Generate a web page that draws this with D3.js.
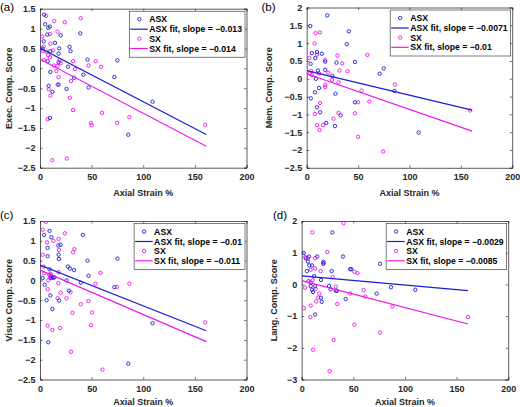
<!DOCTYPE html>
<html><head><meta charset="utf-8">
<script src="https://cdn.jsdelivr.net/npm/d3@7"></script>
<style>body{margin:0;background:#fff}svg{display:block}</style>
</head><body><svg id="chart" width="520" height="407"></svg>
<script>
// ---------- data ----------
const panelLetters = ["(a)", "(b)", "(c)", "(d)"];
const yLabels = ["Exec. Comp. Score", "Mem. Comp. Score", "Visuo Comp. Score", "Lang. Comp. Score"];
const xLabel = "Axial Strain %";
const xDomain = [0, 200];
const xTicks = [0, 50, 100, 150, 200];
const yDomains = [[-2.5, 1.5], [-2.5, 2], [-2.5, 1.5], [-3, 2]];
const yTickSets = [
  [-2.5, -2, -1.5, -1, -0.5, 0, 0.5, 1, 1.5],
  [-2.5, -2, -1.5, -1, -0.5, 0, 0.5, 1, 1.5, 2],
  [-2.5, -2, -1.5, -1, -0.5, 0, 0.5, 1, 1.5],
  [-3, -2, -1, 0, 1, 2]
];
const seriesNames = ["ASX", "SX"];
const asxSlopeLabels = ["−0.013", "−0.0071", "−0.01", "−0.0029"];
const sxSlopeLabels = ["−0.014", "−0.01", "−0.011", "−0.0085"];
// [intercept, slope] of the fitted lines
const asxFits = [[0.51, -0.0135], [0.23, -0.0069], [0.39, -0.0103], [0.27, -0.0029]];
const sxFits = [[0.23, -0.0136], [0.14, -0.0100], [0.26, -0.0112], [0.12, -0.0085]];
const fitXRange = [0, 161];

const execASX = [[4,1.35],[5,1.11],[8,1.02],[9.6,1.05],[7,0.85],[20,0.83],[39,0.88],[3.5,0.68],[2.5,0.5],[14.5,0.64],[10,0.43],[18.6,0.5],[18,0.37],[28.6,0.54],[29.6,0.43],[18,0.15],[7.4,0.18],[27,0.04],[46,0.22],[75,0.2],[10,-0.09],[33,-0.24],[42,-0.16],[72,-0.22],[8.4,-0.44],[18,-0.41],[12,-0.59],[25.7,-0.52],[47,-0.48],[109,-0.84],[9.6,-1.25],[85.5,-1.67]];
const execSX = [[6,1.32],[39.5,1.26],[13.8,1.19],[24,1.16],[2.3,0.8],[17,0.92],[9.6,0.86],[10,0.62],[3.5,0.55],[2.6,0.44],[6,0.42],[8,0.33],[12.5,0.45],[9.6,0.28],[19,0.21],[20,0.13],[17,0.06],[3.5,0.21],[13.5,0.07],[32,0.18],[34,-0.02],[54,0.18],[47,0.07],[59,0.04],[15.8,-0.07],[18,-0.22],[30,-0.32],[8.4,-0.53],[17,-0.41],[10,-0.69],[29,-0.74],[32,-1.05],[60,-1.12],[7.4,-1.28],[49.5,-1.37],[50,-1.43],[74.6,-1.37],[86.5,-1.23],[160,-1.42],[12,-2.31],[26,-2.27]];

const memASX = [[20,1.78],[3.5,1.48],[41,1.33],[39,0.97],[5,0.72],[10,0.75],[14.7,0.7],[3.8,0.42],[8.3,0.58],[18,0.48],[29,0.45],[47,0.47],[18,0.25],[11,0.23],[25,0.08],[9,0.0],[75,0.29],[71,0.14],[85.4,-0.34],[8,-0.38],[12,-0.26],[28,-0.42],[4,-0.55],[47,-0.66],[10,-0.8],[13,-0.94],[33,-1.03],[19,-1.24],[27.5,-1.33],[109,-1.51]];
const memSX = [[8.6,1.28],[12.8,1.3],[7.7,0.99],[59,0.67],[30,0.65],[2.6,0.58],[10,0.68],[18,0.53],[34.5,0.43],[32,0.23],[39.7,0.21],[21,0.17],[3,0.15],[5,0.1],[4.5,0.22],[12,0.15],[24.6,-0.03],[31,-0.1],[18,-0.17],[18,-0.23],[86,-0.16],[53.4,-0.33],[61,-0.64],[50,-0.66],[13,-0.68],[47,-0.97],[31,-0.96],[8,-0.99],[26,-1.12],[10,-1.3],[16,-1.3],[12.5,-1.44],[50,-1.63],[74.5,-2.04],[159,-0.89]];

const visuoASX = [[4,1.15],[9.3,1.25],[11,1.09],[41.5,1.15],[7.4,0.82],[17.7,0.88],[20,0.9],[18,0.65],[18.3,0.54],[7.4,0.61],[46,0.5],[75,0.55],[27,0.35],[29,0.3],[33,0.26],[9.3,0.28],[2.6,0.06],[13,0.07],[11,0.06],[14,0.08],[47,0.12],[25.7,0.0],[39.5,-0.06],[4.5,-0.11],[72,-0.17],[28,-0.26],[10,-0.38],[6.4,-0.5],[18.6,-0.51],[12,-0.72],[109,-1.08],[8,-1.56],[85.5,-2.1]];
const visuoSX = [[5.8,1.48],[2.6,1.28],[6.8,0.96],[24,1.19],[18,1.05],[13,1.0],[18.3,0.77],[33.4,0.79],[32,0.71],[2.6,0.65],[3.5,0.35],[9,0.14],[10,0.1],[11,0.12],[9.5,0.07],[10.5,0.16],[12,0.08],[18,0.21],[58.5,0.19],[4,0.18],[8,0.0],[17.7,-0.07],[53.7,-0.08],[74.6,-0.16],[86.5,-0.08],[7.4,-0.22],[20,-0.31],[29.6,-0.3],[25.7,-0.45],[17,-0.45],[47,-0.52],[39.5,-0.6],[50.5,-0.81],[31.5,-0.82],[49.5,-1.13],[7.4,-1.14],[12,-1.25],[19.6,-1.2],[160,-1.06],[30,-1.8],[60.5,-2.25]];

const langASX = [[29.7,1.64],[2,0.99],[7,0.88],[15,0.88],[4,0.82],[6,0.72],[7.4,0.6],[10,0.6],[40,0.88],[21,0.71],[21,0.65],[29,0.42],[47,0.48],[48,0.48],[76,0.65],[5,0.42],[18.7,0.14],[12,0.26],[6.5,0.1],[26.5,-0.05],[8.7,-0.05],[13,-0.06],[28,-0.15],[86.5,-0.09],[110,-0.17],[10,-0.17],[11,-0.24],[33,-0.2],[34,-0.2],[72.6,-0.29],[18.7,-0.42],[19.4,-0.55],[42.6,-0.46],[13,-0.95]];
const langSX = [[40.6,1.93],[10.3,1.64],[24.8,1.02],[3.5,0.86],[6,0.82],[13,0.83],[21,0.67],[18.4,0.42],[8.7,0.46],[13,0.5],[51,0.4],[54,0.36],[30,0.23],[10.6,0.13],[9,0.05],[3.2,-0.1],[13.5,-0.14],[33,-0.07],[16.8,-0.29],[47,-0.29],[60,-0.18],[61.6,-0.38],[16,-0.42],[87.7,-0.7],[8.7,-0.67],[34.5,-0.62],[2,-0.75],[14,-0.54],[8.4,-1.03],[51,-1.27],[161,-1.03],[31,-1.75],[76,-1.52],[11,-2.06],[27,-2.74]];

const asxData = [execASX, memASX, visuoASX, langASX];
const sxData = [execSX, memSX, visuoSX, langSX];

// ---------- layout / style ----------
const boxes = [
  {left: 40, top: 8.7, w: 206.5, h: 159, xlabDy: 25, ylabX: 8.5, letterX: 0, letterY: 7},
  {left: 306.7, top: 7.5, w: 205.5, h: 160.3, xlabDy: 25, ylabX: 268.5, letterX: 261.5, letterY: 7.3},
  {left: 40, top: 221, w: 206.5, h: 158.5, xlabDy: 22.5, ylabX: 8.5, letterX: 0, letterY: 215},
  {left: 301.7, top: 221, w: 206.5, h: 158.5, xlabDy: 22.5, ylabX: 273.5, letterX: 273, letterY: 215}
];
const BLUE = "#1c1cd6", MAG = "#ee14ee", AXC = "#333333";
const FONT = "'Liberation Sans', Arial, Helvetica, sans-serif";
const fmt = d => (d < 0 ? "−" + Math.abs(d) : String(d));

const svg = d3.select("#chart");

boxes.forEach((b, i) => {
  const x = d3.scaleLinear().domain(xDomain).range([b.left, b.left + b.w]);
  const y = d3.scaleLinear().domain(yDomains[i]).range([b.top + b.h, b.top]);
  const g = svg.append("g");

  // axes (ticks inward)
  const tl = 2.5;
  const bottom = g.append("g").attr("transform", `translate(0,${b.top + b.h})`)
    .call(d3.axisBottom(x).tickValues(xTicks).tickSize(-tl).tickPadding(3.5).tickFormat(fmt));
  const top = g.append("g").attr("transform", `translate(0,${b.top})`)
    .call(d3.axisTop(x).tickValues(xTicks).tickSize(-tl).tickFormat(""));
  const left = g.append("g").attr("transform", `translate(${b.left},0)`)
    .call(d3.axisLeft(y).tickValues(yTickSets[i]).tickSize(-tl).tickPadding(4.5).tickFormat(fmt));
  const right = g.append("g").attr("transform", `translate(${b.left + b.w},0)`)
    .call(d3.axisRight(y).tickValues(yTickSets[i]).tickSize(-tl).tickFormat(""));
  [bottom, top, left, right].forEach(a => {
    a.select(".domain").attr("stroke", AXC).attr("stroke-width", 0.8);
    a.selectAll(".tick line").attr("stroke", AXC).attr("stroke-width", 0.7);
    a.selectAll("text").attr("font-family", FONT).attr("font-size", 9)
      .attr("font-weight", "bold").attr("fill", "#262626");
  });
  bottom.selectAll("text").attr("dy", "0.95em");

  // clip
  const cid = "clip" + i;
  svg.append("clipPath").attr("id", cid).append("rect")
    .attr("x", b.left).attr("y", b.top).attr("width", b.w).attr("height", b.h);
  const plot = g.append("g").attr("clip-path", `url(#${cid})`);

  // points
  plot.selectAll("circle.sx").data(sxData[i]).join("circle").attr("class", "sx")
    .attr("cx", d => x(d[0])).attr("cy", d => y(d[1])).attr("r", 1.7)
    .attr("fill", "none").attr("stroke", MAG).attr("stroke-width", 0.9);
  plot.selectAll("circle.asx").data(asxData[i]).join("circle").attr("class", "asx")
    .attr("cx", d => x(d[0])).attr("cy", d => y(d[1])).attr("r", 1.7)
    .attr("fill", "none").attr("stroke", BLUE).attr("stroke-width", 0.9);

  // fit lines
  const line = d3.line().x(d => x(d[0])).y(d => y(d[1]));
  [[asxFits[i], BLUE], [sxFits[i], MAG]].forEach(([f, c]) => {
    const pts = fitXRange.map(v => [v, f[0] + f[1] * v]);
    plot.append("path").attr("d", line(pts)).attr("fill", "none")
      .attr("stroke", c).attr("stroke-width", 1.2);
  });

  // legend
  const entries = [
    {t: seriesNames[0], c: BLUE, k: "m"},
    {t: `${seriesNames[0]} fit, slope = ${asxSlopeLabels[i]}`, c: BLUE, k: "l"},
    {t: seriesNames[1], c: MAG, k: "m"},
    {t: `${seriesNames[1]} fit, slope = ${sxSlopeLabels[i]}`, c: MAG, k: "l"}
  ];
  const lg = g.append("g");
  const lrect = lg.append("rect").attr("fill", "#fff").attr("stroke", "#262626").attr("stroke-width", 0.6);
  const rowsY = [8, 18, 27.5, 37.3];
  let maxW = 0;
  const items = lg.append("g");
  entries.forEach((e, k) => {
    const t = items.append("text").attr("x", 20).attr("y", rowsY[k]).attr("dy", "0.35em")
      .attr("font-family", FONT).attr("font-size", 8.7).attr("font-weight", "bold")
      .attr("fill", "#000").text(e.t);
    maxW = Math.max(maxW, t.node().getComputedTextLength());
    if (e.k === "m") {
      items.append("circle").attr("cx", 10).attr("cy", rowsY[k]).attr("r", 1.7)
        .attr("fill", "none").attr("stroke", e.c).attr("stroke-width", 0.9);
    } else {
      items.append("line").attr("x1", 1).attr("x2", 18.5).attr("y1", rowsY[k]).attr("y2", rowsY[k])
        .attr("stroke", e.c).attr("stroke-width", 1.2);
    }
  });
  const lw = 20 + maxW + 3, lh = 46;
  lrect.attr("x", 0).attr("y", 0).attr("width", lw).attr("height", lh);
  lg.attr("transform", `translate(${b.left + b.w - 1.5 - lw},${b.top + 2.5})`);

  // labels
  svg.append("text").attr("x", b.left + b.w / 2).attr("y", b.top + b.h + b.xlabDy).attr("dy", "0.35em")
    .attr("text-anchor", "middle").attr("font-family", FONT).attr("font-size", 9)
    .attr("font-weight", "bold").attr("fill", "#262626").text(xLabel);
  svg.append("text").attr("transform", `translate(${b.ylabX},${b.top + b.h / 2}) rotate(-90)`)
    .attr("dy", "0.35em").attr("text-anchor", "middle").attr("font-family", FONT).attr("font-size", 9)
    .attr("font-weight", "bold").attr("fill", "#262626").text(yLabels[i]);
  svg.append("text").attr("x", b.letterX).attr("y", b.letterY).attr("dy", "0.35em")
    .attr("font-family", FONT).attr("font-size", 11.5).attr("fill", "#000").text(panelLetters[i]);
});
</script></body></html>
